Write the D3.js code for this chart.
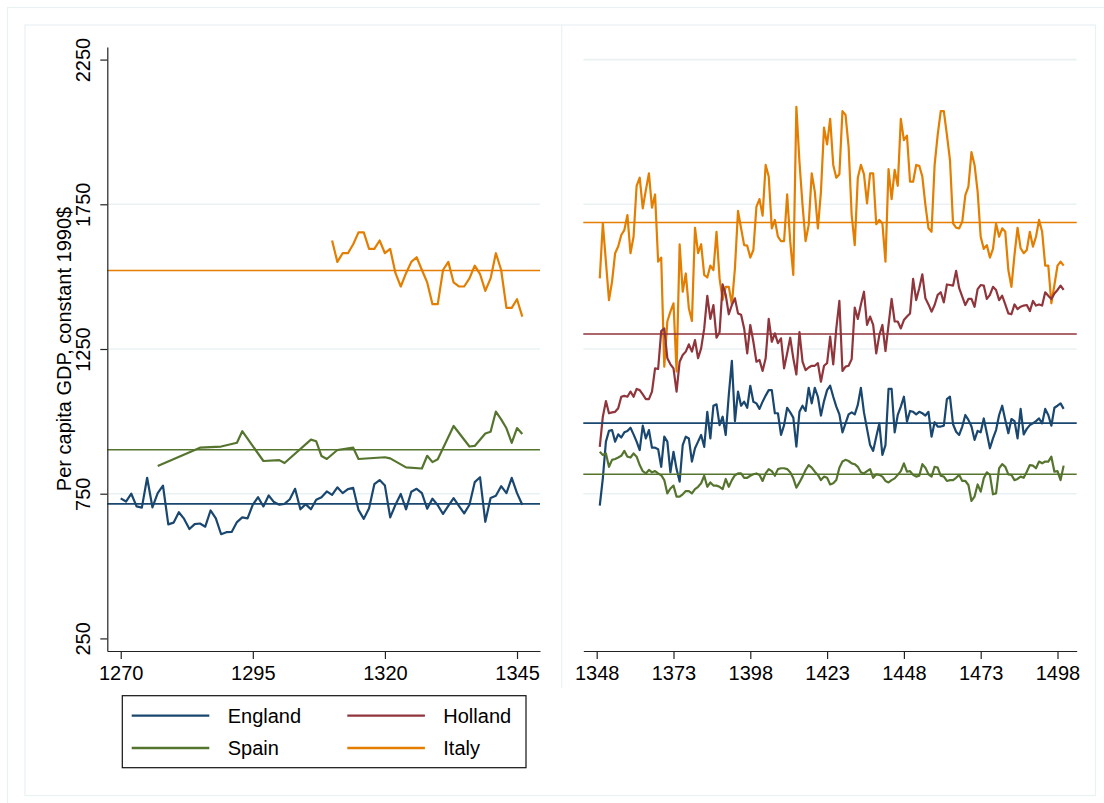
<!DOCTYPE html>
<html>
<head>
<meta charset="utf-8">
<script src="https://cdn.jsdelivr.net/npm/d3@7"></script>
<style>
  body { margin: 0; background: #fff; }
  svg { display: block; font-family: 'Liberation Sans', Arial, Helvetica, sans-serif; }
</style>
</head>
<body>
<div id="chart"></div>
<script>
// Panel 1: 1270-1346
var englandStartL = 1270
var englandL = [734,723,750,706,702,805,703,752,778,644,650,686,663,628,645,647,636,692,665,610,
  617,618,652,668,665,712,738,706,744,721,712,715,731,767,696,714,696,729,738,758,
  746,772,752,766,770,694,663,700,783,797,778,668,712,749,696,757,767,752,698,733,
  710,680,708,735,708,682,712,790,807,653,735,743,776,752,805,752,712]
var spainYearsL = [1277,1285,1289,1292,1293,1297,1300,1301,1306,1307,1308,1309,1311,1314,1315,1320,1321,
  1324,1327,1328,1329,1330,1333,1336,1337,1339,1340,1341,1342,1343,1344,1345,1346]
var spainL = [846,909,913,926,966,863,866,856,937,931,880,870,901,909,870,876,872,
  841,837,881,859,869,984,913,915,958,964,1034,1007,976,926,977,956]
var italyStartL = 1310
var italyL = [1625,1551,1581,1581,1612,1653,1653,1596,1596,1625,1581,1596,1512,1466,1512,1551,1567,1523,1480,1405,
  1405,1523,1551,1480,1466,1466,1494,1538,1509,1451,1494,1581,1523,1392,1392,1422,1362]

// Panel 2: 1349-1500
var startR = 1349
var englandR = [709,803,930,967,970,930,955,944,962,967,978,955,930,901,985,941,970,909,909,904,
  843,947,930,824,895,835,792,918,947,941,861,907,930,953,912,1033,941,1054,1059,987,
  1016,953,1091,1209,1001,1103,1054,1068,1047,1123,1068,1062,
  1043,1068,1089,1108,1108,1028,1028,953,987,1047,1031,1013,913,1033,1054,1036,1116,1062,1116,1085,
  1020,1070,1108,1123,1085,1051,1024,962,993,1024,1031,1024,1057,1116,1031,974,918,898,947,993,
  884,918,1112,1112,962,1022,1051,1085,999,1036,1033,1024,1033,1028,1020,
  1033,947,997,982,982,985,1077,1085,990,964,953,982,1022,1005,982,936,967,962,1010,959,
  907,941,970,1022,1054,1005,959,1008,1001,941,1043,955,974,987,993,1001,1010,993,1043,1022,
  985,1047,1054,1062,1043]
var hollandR = [912,1016,1070,1028,1031,1033,1045,1085,1088,1085,1103,1085,1112,1108,1093,1077,1077,1103,1183,1181,
  1312,1321,1218,1197,1183,1103,1206,1229,1241,1266,1241,1281,1218,1252,1321,1434,1354,1402,1289,1308,
  1473,1437,1370,1402,1425,1373,1368,1321,1235,1333,1275,1206,
  1212,1174,1218,1354,1275,1304,1270,1287,1183,1235,1289,1218,1162,1308,1206,1177,1186,1192,1192,1201,
  1137,1192,1201,1293,1197,1321,1416,1174,1189,1192,1215,1393,1354,1404,1448,1333,1362,1333,1235,1298,
  1333,1243,1333,1423,1345,1345,1321,1350,1362,1373,1492,1419,1460,1508,1425,
  1404,1379,1402,1437,1446,1411,1473,1471,1469,1520,1460,1431,1402,1423,1423,1396,1457,1471,1469,1423,
  1437,1465,1454,1419,1434,1404,1373,1370,1404,1388,1396,1400,1402,1381,1416,1400,1404,1400,1446,1434,
  1423,1442,1454,1469,1454]
var spainR = [895,884,889,843,867,870,875,881,898,878,875,889,878,849,828,820,832,824,828,820,
  814,797,751,768,778,740,740,748,759,759,751,766,774,786,812,774,789,778,778,774,
  766,801,774,797,814,820,820,805,805,812,817,820,
  815,794,820,835,828,812,835,838,838,835,824,803,771,789,809,832,849,840,826,815,
  797,809,805,782,786,797,840,861,867,863,855,852,843,824,820,828,835,805,817,815,
  809,794,789,797,803,815,828,855,826,828,815,809,812,852,840,
  817,809,843,840,812,809,794,797,797,805,815,794,794,780,725,740,782,757,803,824,
  815,748,751,838,852,843,817,815,797,801,809,805,826,849,847,838,861,855,861,861,
  878,826,828,797,847]
var italyR = [1494,1684,1552,1419,1483,1581,1604,1644,1661,1713,1581,1638,1814,1842,1736,1799,1857,1738,1784,1552,
  1566,1189,1345,1379,1408,1172,1612,1448,1511,1391,1347,1669,1581,1612,1506,1497,1538,1523,1655,1494,
  1419,1465,1465,1404,1529,1727,1667,1609,1607,1566,1592,1742,
  1768,1711,1886,1846,1667,1696,1638,1623,1623,1784,1621,1506,2087,1897,1748,1623,1678,1857,1794,1667,
  1794,2015,1957,2045,1886,1842,1854,2072,2059,1949,1713,1609,1842,1886,1854,1753,1857,1857,1681,1696,
  1684,1552,1872,1768,1869,1814,2045,1972,1987,1828,1828,1886,1883,1846,1748,
  1667,1655,1886,1990,2072,2072,1990,1903,1684,1669,1667,1690,1782,1811,1930,1886,1794,1638,1596,1609,
  1566,1596,1684,1638,1667,1655,1523,1465,1575,1669,1598,1581,1592,1655,1604,1638,1696,1655,1538,1538,
  1408,1471,1538,1552,1538]

// Period averages (horizontal reference lines)
var meansL = {England: 715, Spain: 902, Italy: 1521}
var meansR = {England: 994, Holland: 1302, Spain: 817, Italy: 1687}

var yTicks = [250, 750, 1250, 1750, 2250]
var xTicksL = [1270, 1295, 1320, 1345]
var xTicksR = [1348, 1373, 1398, 1423, 1448, 1473, 1498]
var colors = {England: '#1a476f', Holland: '#90353b', Spain: '#55752f', Italy: '#e37e00'}

var width = 1104
var height = 803
var gridColor = '#eaf1f3'

function annual(start, values) {
    return values.map((v, i) => ({year: start + i, value: v}))
}

var seriesL = [
    {key: 'England', data: annual(englandStartL, englandL)},
    {key: 'Spain', data: spainYearsL.map((yr, i) => ({year: yr, value: spainL[i]}))},
    {key: 'Italy', data: annual(italyStartL, italyL)}
]
var seriesR = [
    {key: 'Italy', data: annual(startR, italyR)},
    {key: 'Holland', data: annual(startR, hollandR)},
    {key: 'England', data: annual(startR, englandR)},
    {key: 'Spain', data: annual(startR, spainR)}
]

var svg = d3.select('#chart')
    .append('svg')
    .attr('width', width)
    .attr('height', height)

svg.append('rect').attr('width', width).attr('height', height).attr('fill', '#fff')

// frames
svg.append('rect')
    .attr('x', 7.5).attr('y', 7.5)
    .attr('width', width).attr('height', height)
    .attr('fill', 'none').attr('stroke', gridColor).attr('stroke-width', 1.2)
svg.append('rect')
    .attr('x', 25).attr('y', 25)
    .attr('width', 1070.5).attr('height', 770.5)
    .attr('fill', 'none').attr('stroke', gridColor).attr('stroke-width', 1.2)
svg.append('line')
    .attr('x1', 561.7).attr('x2', 561.7)
    .attr('y1', 25).attr('y2', 688)
    .attr('stroke', gridColor).attr('stroke-width', 1.2)

var y = d3.scaleLinear().domain([206.5, 2293.5]).range([651, 47])
var xL = d3.scaleLinear().domain([1267.46, 1349.35]).range([107.3, 540])
var xR = d3.scaleLinear().domain([1343.64, 1504.25]).range([583.3, 1076.7])

function drawPanel(x, series, means, gridTicks, xTicks, withYAxis) {
    var g = svg.append('g')
    var r = x.range()

    g.append('g')
        .selectAll('line')
        .data(gridTicks)
        .enter().append('line')
        .attr('x1', r[0]).attr('x2', r[1])
        .attr('y1', d => y(d)).attr('y2', d => y(d))
        .attr('stroke', gridColor)
        .attr('stroke-width', 1.6)

    var line = d3.line()
        .x(d => x(d.year))
        .y(d => y(d.value))

    g.append('g')
        .selectAll('path')
        .data(series)
        .enter().append('path')
        .attr('d', d => line(d.data))
        .attr('fill', 'none')
        .attr('stroke', d => colors[d.key])
        .attr('stroke-width', 2.2)
        .attr('stroke-linejoin', 'round')

    g.append('g')
        .selectAll('line')
        .data(Object.keys(means))
        .enter().append('line')
        .attr('x1', r[0]).attr('x2', r[1])
        .attr('y1', d => y(means[d])).attr('y2', d => y(means[d]))
        .attr('stroke', d => colors[d])
        .attr('stroke-width', 1.6)

    var xAxis = g.append('g')
        .attr('transform', 'translate(0,651)')
        .call(d3.axisBottom(x).tickValues(xTicks).tickSize(8).tickSizeOuter(0).tickFormat(d3.format('d')))
    xAxis.select('.domain').attr('stroke', '#222').attr('stroke-width', 1.2)
    xAxis.selectAll('.tick line').attr('stroke', '#222').attr('stroke-width', 1.2)
    xAxis.selectAll('.tick text')
        .attr('y', 29).attr('dy', 0)
        .attr('font-size', 20)
        .attr('font-family', "'Liberation Sans', Arial, sans-serif")
        .attr('fill', '#000')

    if (withYAxis) {
        var yAxis = g.append('g')
            .attr('transform', `translate(${r[0]},0)`)
            .call(d3.axisLeft(y).tickValues(yTicks).tickSize(7).tickSizeOuter(0).tickFormat(d3.format('d')))
        yAxis.select('.domain').attr('stroke', '#222').attr('stroke-width', 1.2)
        yAxis.selectAll('.tick line').attr('stroke', '#222').attr('stroke-width', 1.2)
        yAxis.selectAll('.tick text')
            .attr('transform', 'rotate(-90)')
            .attr('x', 0).attr('y', -17).attr('dy', 0)
            .attr('text-anchor', 'middle')
            .attr('font-size', 20)
            .attr('font-family', "'Liberation Sans', Arial, sans-serif")
            .attr('fill', '#000')
    }
}

drawPanel(xL, seriesL, meansL, [750, 1250, 1750], xTicksL, true)
drawPanel(xR, seriesR, meansR, [750, 1250, 1750, 2250], xTicksR, false)

svg.append('text')
    .attr('transform', 'translate(71,349) rotate(-90)')
    .attr('text-anchor', 'middle')
    .attr('font-size', 20)
    .attr('fill', '#000')
    .text('Per capita GDP, constant 1990$')

// legend
var legendItems = [
    {key: 'England', col: 0, row: 0},
    {key: 'Holland', col: 1, row: 0},
    {key: 'Spain', col: 0, row: 1},
    {key: 'Italy', col: 1, row: 1}
]

svg.append('rect')
    .attr('x', 122.3).attr('y', 695.7)
    .attr('width', 403.7).attr('height', 72)
    .attr('fill', '#fff')
    .attr('stroke', '#111')
    .attr('stroke-width', 1.2)

var legend = svg.append('g')
    .selectAll('g')
    .data(legendItems)
    .enter().append('g')
    .attr('transform', d => `translate(${131.7 + d.col * 215.6},${715.7 + d.row * 32.3})`)

legend.append('line')
    .attr('x1', 0).attr('x2', 77.6)
    .attr('stroke', d => colors[d.key])
    .attr('stroke-width', 2.3)

legend.append('text')
    .attr('x', 96)
    .attr('y', 7.2)
    .attr('font-size', 20)
    .attr('fill', '#000')
    .text(d => d.key)
</script>
</body>
</html>
